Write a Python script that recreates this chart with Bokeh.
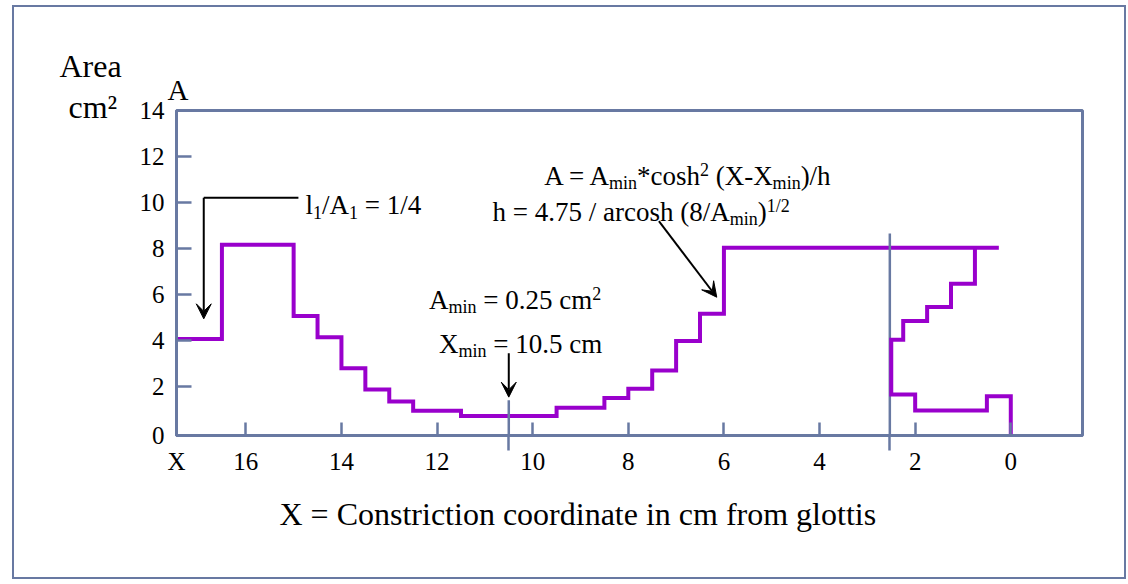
from bokeh.plotting import figure
from bokeh.models import Range1d, FixedTicker, Label, Arrow, VeeHead, Title
from bokeh.embed import file_html
from bokeh.resources import INLINE

# Area function A(X) in cm^2, X = distance from glottis in cm (axis runs 17 -> 0)
step_edges = [17.45, 16.5, 15.0, 14.5, 14.0, 13.5, 13.0, 12.5, 11.5, 9.5, 8.5, 8.0, 7.5, 7.0, 6.5, 6.0, 0.25]
step_areas = [4.05, 8.15, 5.05, 4.13, 2.78, 1.85, 1.33, 0.93, 0.70, 1.06, 1.48, 1.89, 2.68, 3.96, 5.15, 8.02]

# front section profile drawn to the right of the split line
front_x = [0.75, 0.75, 1.25, 1.25, 1.75, 1.75, 2.25, 2.25, 2.5, 2.5, 2.0, 2.0, 0.5, 0.5, 0.0, 0.0]
front_y = [8.02, 6.46, 6.46, 5.44, 5.44, 4.83, 4.83, 4.02, 4.02, 1.64, 1.64, 0.94, 0.94, 1.56, 1.56, -0.15]

x_ticks = [16, 14, 12, 10, 8, 6, 4, 2, 0]
y_ticks = [2, 4, 6, 8, 10, 12, 14]

x_min = 10.5      # constriction position, cm
split_x = 2.53    # split line between back and front sections

X_START, X_END = 17.45, -1.5
Y_START, Y_END = -0.15, 14.0

SLATE = "#6879a2"
PURPLE = "#9900cc"
SERIF = "Liberation Serif"

p = figure(width=1110, height=570,
           x_range=Range1d(X_START, X_END), y_range=Range1d(Y_START, Y_END),
           output_backend="svg", toolbar_location=None,
           min_border_left=162, min_border_right=42,
           min_border_top=103, min_border_bottom=142,
           styles={"margin-left": "14px", "margin-top": "7px",
                   "outline": f"2px solid {SLATE}"})

p.title.visible = False
p.grid.visible = False
p.background_fill_color = "white"
p.border_fill_color = "white"
p.outline_line_color = SLATE
p.outline_line_width = 3

# axes
p.xaxis.ticker = FixedTicker(ticks=[X_START] + x_ticks, minor_ticks=[x_min, split_x])
p.xaxis.major_label_overrides = {X_START: "X"}
p.yaxis.ticker = FixedTicker(ticks=[Y_START] + y_ticks)
p.yaxis.major_label_overrides = {Y_START: "0"}
for ax in (p.xaxis, p.yaxis):
    ax.axis_line_color = SLATE
    ax.axis_line_width = 3
    ax.major_tick_line_color = SLATE
    ax.major_tick_line_width = 2.5
    ax.major_tick_out = 0
    ax.major_label_text_font = SERIF
    ax.major_label_text_font_size = "25px"
    ax.major_label_text_color = "black"
p.xaxis.major_tick_in = 13
p.xaxis.minor_tick_line_color = SLATE
p.xaxis.minor_tick_line_width = 2.5
p.xaxis.minor_tick_in = 0
p.xaxis.minor_tick_out = 15
p.xaxis.major_label_standoff = -3
p.yaxis.minor_tick_line_color = None
p.yaxis.major_tick_in = 15
p.yaxis.major_label_standoff = 12


def heading(text, size, offset, standoff, place="above"):
    p.add_layout(Title(text=text, align="left", offset=offset, standoff=standoff,
                       text_font=SERIF, text_font_size=size, text_font_style="normal",
                       text_color="black"), place)


# axis titles, stacked outward from the top of the plot box
heading("cm²", "32px", -108, -28)
heading("A", "29px", -9, -11)
heading("Area", "32px", -117, -13)
heading("X = Constriction coordinate in cm from glottis", "32px", 103, 32, place="below")

# area function and guide lines
p.step(step_edges, step_areas + [step_areas[-1]], mode="after",
       line_color=PURPLE, line_width=4, line_join="miter")
p.segment(x0=[x_min, split_x], y0=[1.38, 8.64], x1=[x_min, split_x], y1=[Y_START, Y_START],
          line_color=SLATE, line_width=2.5)
p.line(front_x, front_y, line_color=PURPLE, line_width=4, line_join="miter")


def pointer(x0, y0, x1, y1, head=True):
    end = VeeHead(size=15, fill_color="black", line_color="black", line_width=1) if head else None
    p.add_layout(Arrow(x_start=x0, y_start=y0, x_end=x1, y_end=y1, end=end,
                       line_color="black", line_width=2))


pointer(14.9, 10.2, 16.88, 10.2, head=False)
pointer(16.88, 10.2, 16.88, 4.93)
pointer(7.36, 9.18, 6.15, 5.87)
pointer(x_min, 3.43, x_min, 1.52)

# Times advance widths (per 1000 em) for laying out runs with sub/superscripts
TIMES_W = {" ": 250, "(": 333, ")": 333, "*": 500, "-": 333, ".": 250, "/": 278,
           "=": 564, "A": 722, "C": 667, "X": 722, "a": 444, "c": 444, "d": 500,
           "e": 444, "f": 333, "g": 500, "h": 500, "i": 278, "l": 278, "m": 778,
           "n": 500, "o": 500, "r": 333, "s": 389, "t": 278}
KERN = {("A", " "): -55, (" ", "A"): -55}


def text_width(s, size):
    w = sum(TIMES_W.get(ch, 500) for ch in s)
    w += sum(KERN.get(pair, 0) for pair in zip(s, s[1:]))
    return w * size / 1000.0


def rich_text(x, y, parts, size=27, small=18, sub_dy=-7, sup_dy=6):
    cursor = 0.0
    for piece, kind in parts:
        fs = size if kind == "" else small
        lead = len(piece) - len(piece.lstrip(" "))
        body = piece.strip(" ")
        dy = {"": 0, "sub": sub_dy, "sup": sup_dy}[kind]
        if body:
            p.add_layout(Label(x=x, y=y, text=body,
                               x_offset=cursor + text_width(" " * lead, fs), y_offset=dy,
                               text_font=SERIF, text_font_size=f"{fs}px",
                               text_color="black", text_align="left",
                               text_baseline="alphabetic"))
        cursor += text_width(piece, fs)


rich_text(9.76, 11.17, [("A = A", ""), ("min", "sub"), ("*cosh", ""), ("2", "sup"),
                        (" (X-X", ""), ("min", "sub"), (")/h", "")])
rich_text(10.84, 9.56, [("h = 4.75 / arcosh (8/A", ""), ("min", "sub"), (")", ""),
                        ("1/2", "sup")])
rich_text(12.17, 5.76, [("A", ""), ("min", "sub"), (" = 0.25 cm", ""), ("2", "sup")])
rich_text(11.96, 3.84, [("X", ""), ("min", "sub"), (" = 10.5 cm", "")])
rich_text(14.75, 9.87, [("l", ""), ("1", "sub"), ("/A", ""), ("1", "sub"), (" = 1/4", "")])

open("out.html", "w").write(file_html(p, INLINE))
